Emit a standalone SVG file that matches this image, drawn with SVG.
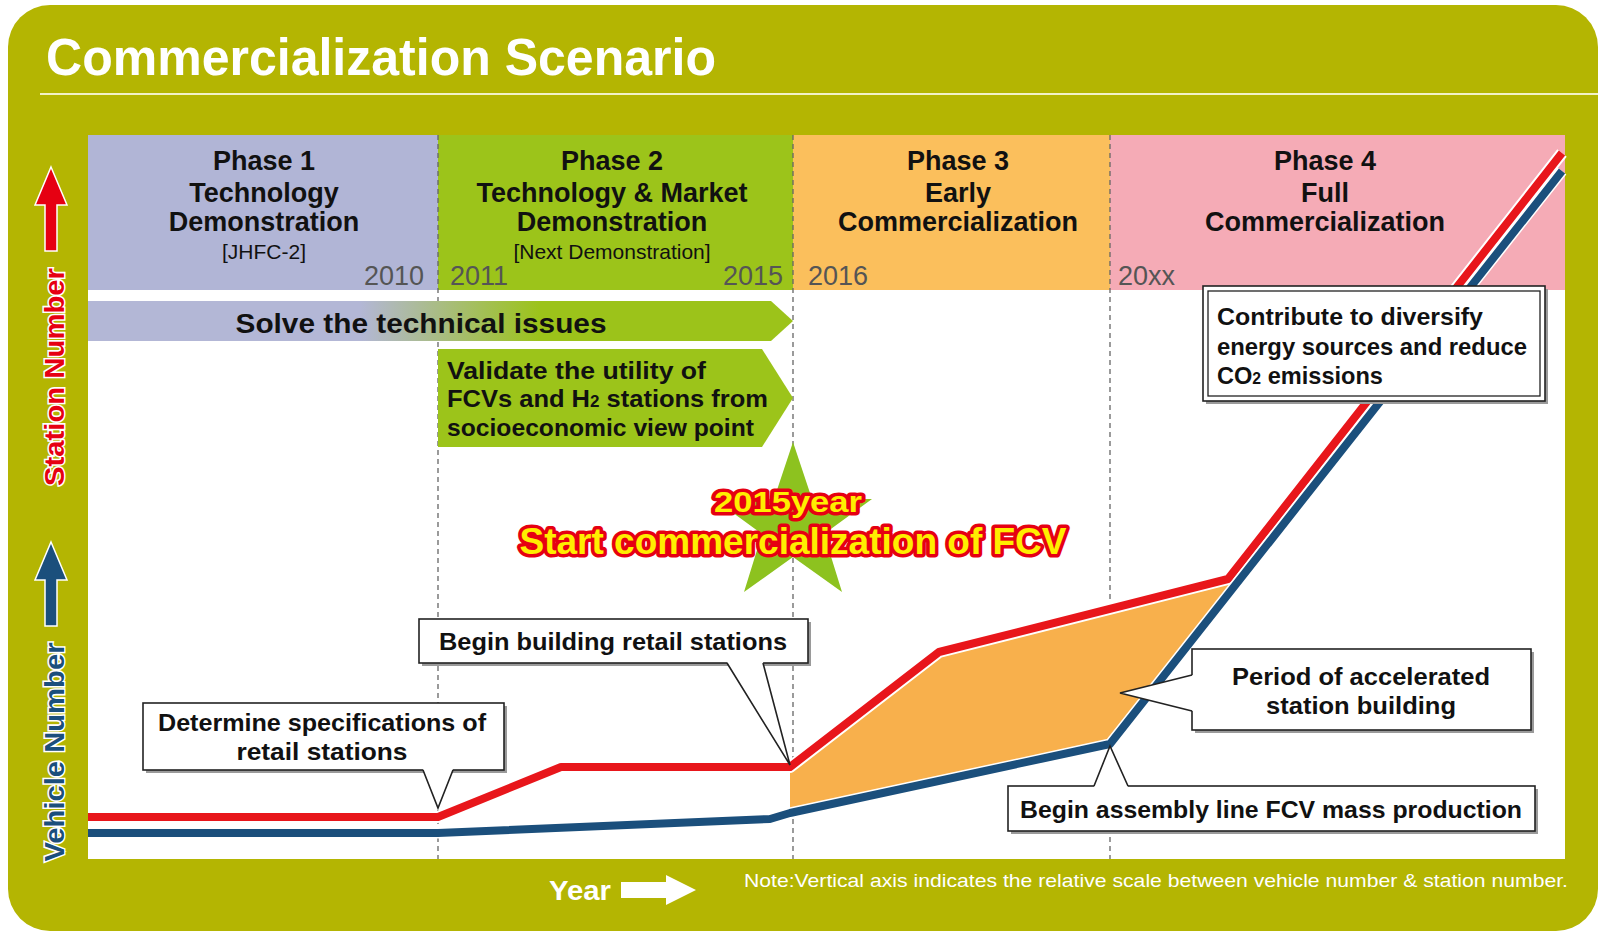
<svg xmlns="http://www.w3.org/2000/svg" width="1604" height="936" viewBox="0 0 1604 936">
<style>
.t{font-family:"Liberation Sans",Arial,sans-serif;font-weight:bold;fill:#111}
.ph{font-size:27px;text-anchor:middle}
.sm{font-size:21px;text-anchor:middle;font-weight:normal}
.yr{font-family:"Liberation Sans",Arial,sans-serif;font-size:27px;fill:#555}
.co{font-size:24px}
.box{fill:#fff;stroke:#222;stroke-width:1.6}
.shd{fill:#9a9a9a}
.dash{stroke:#666;stroke-width:1.3;stroke-dasharray:5 4;fill:none}
.ptr{fill:#fff;stroke:#222;stroke-width:1.6;stroke-linejoin:miter}
.big{font-family:"Liberation Sans",Arial,sans-serif;font-weight:bold;fill:#ffee00;stroke:#e60012;stroke-width:7;paint-order:stroke;stroke-linejoin:round;text-anchor:middle}
</style>
<defs>
<linearGradient id="solve" gradientUnits="userSpaceOnUse" x1="360" y1="0" x2="540" y2="0">
<stop offset="0" stop-color="#b3b7d6"/>
<stop offset="1" stop-color="#9cc31a"/>
</linearGradient>
</defs>
<rect width="1604" height="936" fill="#fff"/>
<g id="frame">
<rect x="8" y="5" width="1590" height="926" rx="42" fill="#b4b502"/>
<line x1="40" y1="94" x2="1598" y2="94" stroke="#f2f1c8" stroke-width="2"/>
<text x="46" y="75" font-family="'Liberation Sans',Arial,sans-serif" font-weight="bold" font-size="52" fill="#fff" textLength="670" lengthAdjust="spacingAndGlyphs">Commercialization Scenario</text>
<rect x="88" y="135" width="1477" height="724" fill="#fff"/>
</g>
<g id="phase1">
<rect x="88" y="135" width="350" height="155" fill="#b1b5d6"/>
<text class="t ph" x="264" y="170">Phase 1</text>
<text class="t ph" x="264" y="202">Technology</text>
<text class="t ph" x="264" y="231">Demonstration</text>
<text class="t sm" x="264" y="259">[JHFC-2]</text>
<text class="yr" x="424" y="285" text-anchor="end">2010</text>
</g>
<g id="phase2">
<rect x="438" y="135" width="355" height="155" fill="#9cc41a"/>
<text class="t ph" x="612" y="170">Phase 2</text>
<text class="t ph" x="612" y="202">Technology &amp; Market</text>
<text class="t ph" x="612" y="231">Demonstration</text>
<text class="t sm" x="612" y="259">[Next Demonstration]</text>
<text class="yr" x="450" y="285">2011</text>
<text class="yr" x="783" y="285" text-anchor="end">2015</text>
</g>
<g id="phase3">
<rect x="793" y="135" width="317" height="155" fill="#fbbf5c"/>
<text class="t ph" x="958" y="170">Phase 3</text>
<text class="t ph" x="958" y="202">Early</text>
<text class="t ph" x="958" y="231" textLength="240" lengthAdjust="spacingAndGlyphs">Commercialization</text>
<text class="yr" x="808" y="285">2016</text>
</g>
<g id="phase4">
<rect x="1110" y="135" width="455" height="155" fill="#f5abb6"/>
<text class="t ph" x="1325" y="170">Phase 4</text>
<text class="t ph" x="1325" y="202">Full</text>
<text class="t ph" x="1325" y="231" textLength="240" lengthAdjust="spacingAndGlyphs">Commercialization</text>
<text class="yr" x="1118" y="285">20xx</text>
</g>
<g id="dividers">
<line class="dash" x1="438" y1="135" x2="438" y2="859"/>
<line class="dash" x1="793" y1="135" x2="793" y2="859"/>
<line class="dash" x1="1110" y1="135" x2="1110" y2="859"/>
</g>
<g id="solve">
<polygon points="88,301 771,301 793,321 771,341 88,341" fill="url(#solve)"/>
<text class="t" x="421" y="333" font-size="27" text-anchor="middle" textLength="371" lengthAdjust="spacingAndGlyphs">Solve the technical issues</text>
</g>
<g id="validate">
<polygon points="438,349 762,349 793,398 762,447 438,447" fill="#9cc41a"/>
<text class="t" x="447" y="379" font-size="24" textLength="259" lengthAdjust="spacingAndGlyphs">Validate the utility of</text>
<text class="t" x="447" y="407" font-size="24" textLength="321" lengthAdjust="spacingAndGlyphs">FCVs and H<tspan font-size="16">2</tspan> stations from</text>
<text class="t" x="447" y="436" font-size="24" textLength="307" lengthAdjust="spacingAndGlyphs">socioeconomic view point</text>
</g>
<g id="star">
<polygon points="793,442 812,499 872,499 824,534 842,592 793,557 744,592 762,534 714,499 774,499" fill="#8dc21f"/>
<text class="big" x="788" y="512" font-size="29" textLength="148" lengthAdjust="spacingAndGlyphs">2015year</text>
<text class="big" x="793" y="554" font-size="36" textLength="547" lengthAdjust="spacingAndGlyphs">Start commercialization of FCV</text>
</g>
<g id="connectors" fill="none" stroke-linejoin="round">
<polygon points="790,767 939,652 1228,579 1240,579 1110,744 777,818 790,818" fill="#f8b04c" stroke="none"/>
<polyline points="88,817 438,817 561,767 790,767 939,652 1228,579 1562,153" stroke="#fff" stroke-width="12"/>
<polyline points="88,817 438,817 561,767 790,767 939,652 1228,579 1562,153" stroke="#e8161b" stroke-width="8"/>
<polyline points="88,833 438,833 770,819 790,813 1110,744 1562,171" stroke="#fff" stroke-width="11"/>
<polyline points="88,833 438,833 770,819 790,813 1110,744 1562,171" stroke="#1b4f7c" stroke-width="8"/>
</g>
<g id="callout-determine">
<rect class="shd" x="146" y="706" width="361" height="67"/>
<rect class="box" x="143" y="703" width="361" height="67"/>
<polygon points="423,769 438,808 453,769" fill="#fff"/>
<polyline class="ptr" fill="none" points="423,770 438,808 453,770"/>
<text class="t co" x="322" y="731" text-anchor="middle" textLength="328" lengthAdjust="spacingAndGlyphs">Determine specifications of</text>
<text class="t co" x="322" y="760" text-anchor="middle" textLength="171" lengthAdjust="spacingAndGlyphs">retail stations</text>
</g>
<g id="callout-building">
<rect class="shd" x="422" y="622" width="389" height="44"/>
<rect class="box" x="419" y="619" width="389" height="44"/>
<polygon points="727,662 790,765 763,662" fill="#fff"/>
<polyline class="ptr" fill="none" points="727,663 790,765 763,663"/>
<text class="t co" x="613" y="650" text-anchor="middle" textLength="348" lengthAdjust="spacingAndGlyphs">Begin building retail stations</text>
</g>
<g id="callout-contribute">
<rect class="shd" x="1206" y="289" width="342" height="115"/>
<rect class="box" x="1203" y="286" width="342" height="115" stroke-width="2.4"/>
<rect x="1208" y="291" width="332" height="105" fill="none" stroke="#222" stroke-width="1.3"/>
<text class="t co" x="1217" y="325" textLength="266" lengthAdjust="spacingAndGlyphs">Contribute to diversify</text>
<text class="t co" x="1217" y="355" textLength="310" lengthAdjust="spacingAndGlyphs">energy sources and reduce</text>
<text class="t co" x="1217" y="384" textLength="166" lengthAdjust="spacingAndGlyphs">CO<tspan font-size="16">2</tspan> emissions</text>
</g>
<g id="callout-period">
<rect class="shd" x="1195" y="652" width="339" height="81"/>
<rect class="box" x="1192" y="649" width="339" height="81"/>
<polygon points="1193,675 1120,693 1193,711" fill="#fff"/>
<polyline class="ptr" fill="none" points="1192,675 1120,693 1192,711"/>
<text class="t co" x="1361" y="685" text-anchor="middle" textLength="258" lengthAdjust="spacingAndGlyphs">Period of accelerated</text>
<text class="t co" x="1361" y="714" text-anchor="middle" textLength="190" lengthAdjust="spacingAndGlyphs">station building</text>
</g>
<g id="callout-assembly">
<rect class="shd" x="1011" y="789" width="527" height="45"/>
<rect class="box" x="1008" y="786" width="527" height="45"/>
<polygon points="1094,787 1110,746 1128,787" fill="#fff"/>
<polyline class="ptr" fill="none" points="1094,786 1110,746 1128,786"/>
<text class="t co" x="1271" y="818" text-anchor="middle" textLength="502" lengthAdjust="spacingAndGlyphs">Begin assembly line FCV mass production</text>
</g>
<g id="axis-station">
<polygon points="51,167 67,205 57,205 57,251 45,251 45,205 35,205" fill="#e60012" stroke="#fff" stroke-width="1.5"/>
<text transform="translate(64,377) rotate(-90)" font-family="'Liberation Sans',Arial,sans-serif" font-weight="bold" font-size="28" fill="#e60012" stroke="#fff" stroke-width="3" paint-order="stroke" text-anchor="middle" textLength="218" lengthAdjust="spacingAndGlyphs">Station Number</text>
</g>
<g id="axis-vehicle">
<polygon points="51,542 67,580 57,580 57,626 45,626 45,580 35,580" fill="#1b4f7c" stroke="#fff" stroke-width="1.5"/>
<text transform="translate(64,752) rotate(-90)" font-family="'Liberation Sans',Arial,sans-serif" font-weight="bold" font-size="28" fill="#1b4f7c" stroke="#fff" stroke-width="3" paint-order="stroke" text-anchor="middle" textLength="219" lengthAdjust="spacingAndGlyphs">Vehicle Number</text>
</g>
<g id="axis-year">
<text x="549" y="900" font-family="'Liberation Sans',Arial,sans-serif" font-weight="bold" font-size="28" fill="#fff" textLength="62" lengthAdjust="spacingAndGlyphs">Year</text>
<polygon points="621,882 666,882 666,875 696,890 666,905 666,898 621,898" fill="#fff"/>
</g>
<g id="note">
<text x="744" y="887" font-family="'Liberation Sans',Arial,sans-serif" font-size="19" fill="#fff" textLength="824" lengthAdjust="spacingAndGlyphs">Note:Vertical axis indicates the relative scale between vehicle number &amp; station number.</text>
</g>
</svg>
